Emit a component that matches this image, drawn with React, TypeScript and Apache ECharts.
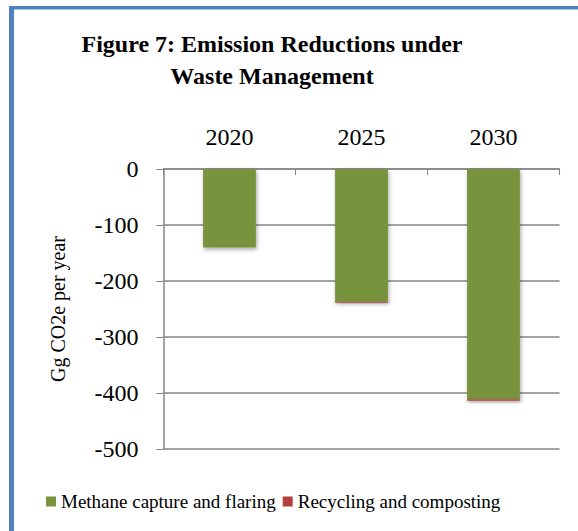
import React, { useEffect, useRef } from "react";
import * as echarts from "echarts";

const years = ["2020", "2025", "2030"];
const methaneCapture = [-140, -237, -411];
const recycling = [0, -2, -3];
const seriesNames = ["Methane capture and flaring", "Recycling and composting"];
const titleLines = ["Figure 7: Emission Reductions under", "Waste Management"];
const yAxisTitle = "Gg CO2e per year";

const FONT = "'Liberation Serif', 'Times New Roman', serif";

export default function App() {
  const ref = useRef<HTMLDivElement>(null);
  useEffect(() => {
    if (!ref.current) return;
    const chart = echarts.init(ref.current, undefined, { renderer: "svg" });
    const barShadow = {
      shadowBlur: 4,
      shadowOffsetX: 1,
      shadowOffsetY: 2,
      shadowColor: "rgba(0,0,0,0.35)",
    };
    chart.setOption({
      animation: false,
      backgroundColor: "#ffffff",
      title: {
        text: titleLines.join("\n"),
        left: 267,
        top: 23,
        textAlign: "center",
        textStyle: {
          fontFamily: FONT,
          fontSize: 24,
          fontWeight: "bold",
          color: "#000",
          lineHeight: 32,
        },
      },
      legend: {
        left: 46,
        top: 492,
        padding: 0,
        itemWidth: 10,
        itemHeight: 10,
        itemGap: 7,
        icon: "rect",
        textStyle: { fontFamily: FONT, fontSize: 19, color: "#000" },
        data: seriesNames,
      },
      grid: { left: 163.5, top: 169, width: 396, height: 280, containLabel: false },
      xAxis: {
        type: "category",
        position: "top",
        data: years,
        axisLine: { show: true, lineStyle: { color: "#868686", width: 1.5 } },
        axisTick: { show: true, inside: true, length: 6, lineStyle: { color: "#868686" } },
        axisLabel: { fontFamily: FONT, fontSize: 24, color: "#000", margin: 20 },
      },
      yAxis: {
        type: "value",
        min: -500,
        max: 0,
        interval: 100,
        name: yAxisTitle,
        nameLocation: "middle",
        nameGap: 96,
        nameRotate: 90,
        nameTextStyle: { fontFamily: FONT, fontSize: 20, color: "#000" },
        axisLine: { show: true, lineStyle: { color: "#868686", width: 1.5 } },
        axisTick: { show: true, inside: false, length: 7, lineStyle: { color: "#868686" } },
        axisLabel: { fontFamily: FONT, fontSize: 24, color: "#000", margin: 25 },
        splitLine: { show: true, lineStyle: { color: "#868686", width: 1.5 } },
      },
      series: [
        {
          name: seriesNames[0],
          type: "bar",
          stack: "total",
          data: methaneCapture,
          barWidth: "40%",
          itemStyle: { color: "#77933C", ...barShadow },
        },
        {
          name: seriesNames[1],
          type: "bar",
          stack: "total",
          data: recycling,
          barWidth: "40%",
          itemStyle: { color: "#B3403C", ...barShadow },
        },
      ],
      graphic: [
        { type: "rect", shape: { x: 9, y: 6, width: 569, height: 3.5 }, style: { fill: "#4F81BD" }, z: 100 },
        { type: "rect", shape: { x: 9, y: 6, width: 5, height: 525 }, style: { fill: "#4F81BD" }, z: 100 },
      ],
    });
    return () => chart.dispose();
  }, []);
  return (
    <div
      ref={ref}
      style={{ position: "fixed", left: 0, top: 0, width: 578, height: 531 }}
    />
  );
}
